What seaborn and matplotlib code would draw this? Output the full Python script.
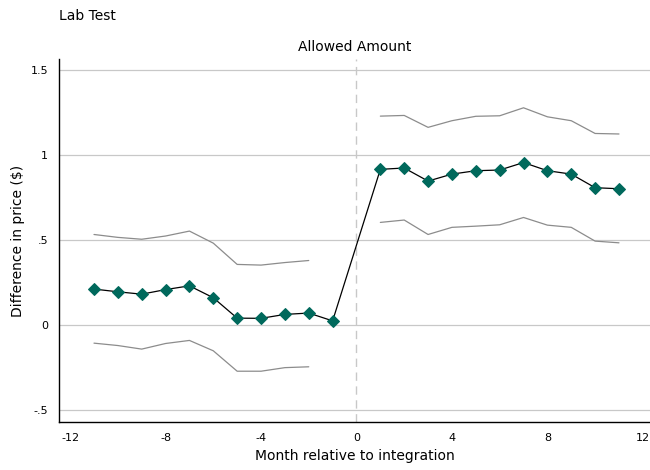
import numpy as np
import pandas as pd
import matplotlib
matplotlib.use("Agg")
import matplotlib.pyplot as plt
import seaborn as sns

# Event-study estimates by month relative to integration
months = [-11, -10, -9, -8, -7, -6, -5, -4, -3, -2, -1,
          1, 2, 3, 4, 5, 6, 7, 8, 9, 10, 11]
estimate = [0.212, 0.196, 0.182, 0.209, 0.231, 0.161, 0.041, 0.040, 0.063, 0.071, 0.025,
            0.916, 0.924, 0.847, 0.888, 0.908, 0.912, 0.956, 0.908, 0.888, 0.808, 0.802]
ci_upper = [0.533, 0.516, 0.505, 0.524, 0.553, 0.482, 0.357, 0.353, 0.368, 0.380, np.nan,
            1.229, 1.233, 1.163, 1.202, 1.228, 1.231, 1.278, 1.225, 1.202, 1.127, 1.124]
ci_lower = [-0.106, -0.120, -0.141, -0.108, -0.090, -0.151, -0.271, -0.271, -0.250, -0.245, np.nan,
            0.604, 0.618, 0.533, 0.575, 0.582, 0.590, 0.633, 0.588, 0.575, 0.494, 0.484]

x_ticks = [-12, -8, -4, 0, 4, 8, 12]
y_ticks = [-0.5, 0, 0.5, 1, 1.5]
y_tick_labels = ["-.5", "0", ".5", "1", "1.5"]

df = pd.DataFrame({"month": months, "estimate": estimate,
                   "upper": ci_upper, "lower": ci_lower})

sns.set_style("white")
plt.rcParams["font.family"] = ["DejaVu Sans"]
plt.rcParams["text.color"] = "black"
plt.rcParams["axes.labelcolor"] = "black"

fig = plt.figure(figsize=(6.5, 4.7), dpi=100)
ax = fig.add_axes([0.091, 0.102, 0.909, 0.7725])

for y in y_ticks:
    ax.axhline(y, color="#c8c8c8", lw=0.9, zorder=0)
ax.axvline(0, color="#c8c8c8", lw=1.0, ls=(0, (6, 4)), zorder=0)

# Confidence bounds drawn as separate segments (gap where undefined)
pre = df[df.month < 0]
post = df[df.month > 0]
for part in (pre, post):
    ax.plot(part.month, part.upper, color="#8c8c8c", lw=0.9, zorder=1)
    ax.plot(part.month, part.lower, color="#8c8c8c", lw=0.9, zorder=1)

sns.lineplot(data=df, x="month", y="estimate", ax=ax, color="black", lw=0.9,
             marker="D", markersize=6.5, markerfacecolor="#00695c",
             markeredgecolor="#00695c", zorder=3, sort=True)

ax.set_xlim(-12.46, 12.3)
ax.set_ylim(-0.57, 1.565)
ax.set_xticks(x_ticks)
ax.set_xticklabels([str(t) for t in x_ticks])
ax.set_yticks(y_ticks)
ax.set_yticklabels(y_tick_labels)
ax.tick_params(axis="both", length=0, labelsize=8, colors="black", pad=8)

for side in ("top", "right"):
    ax.spines[side].set_visible(False)
for side in ("left", "bottom"):
    ax.spines[side].set_color("black")
    ax.spines[side].set_linewidth(1.0)

ax.set_xlabel("Month relative to integration", fontsize=10, labelpad=4)
ax.set_ylabel("Difference in price ($)", fontsize=10, labelpad=4)
ax.set_title("Allowed Amount", fontsize=10, pad=6, color="black")

fig.text(0.091, 0.965, "Lab Test", fontsize=10, ha="left", va="center", color="black")

fig.savefig("out.png", dpi=100, facecolor="white")
